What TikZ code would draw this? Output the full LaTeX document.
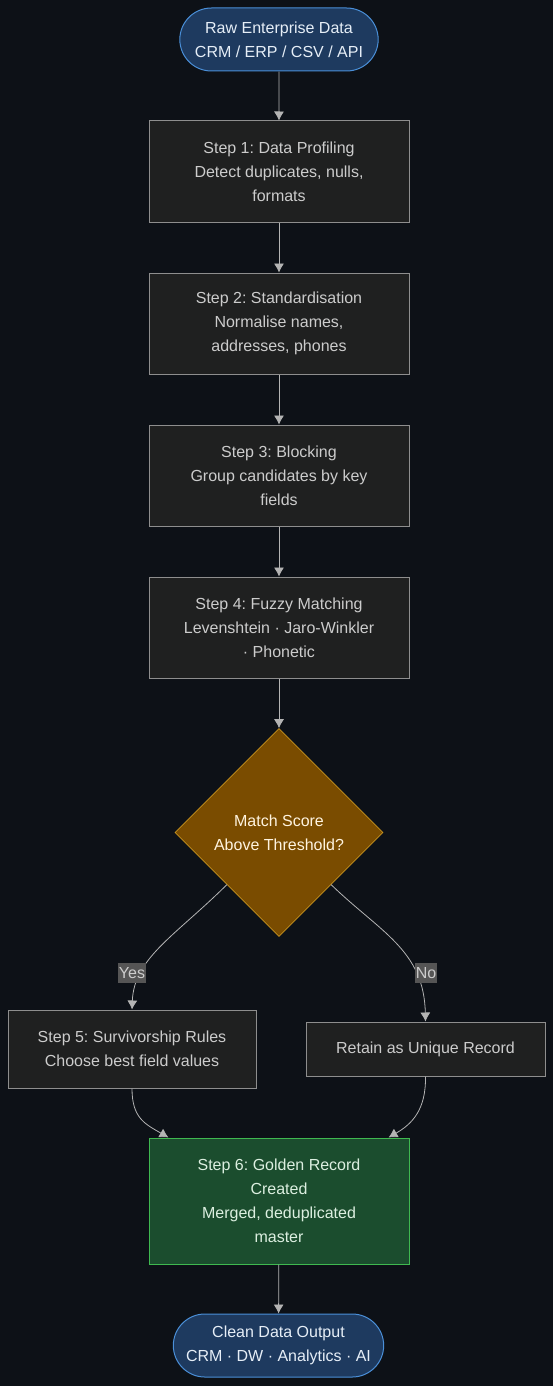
\documentclass[tikz,border=0pt]{standalone}
\usepackage{fontspec}
\setmainfont{Liberation Sans}
\usepackage{tikz}
\usetikzlibrary{arrows.meta,shapes.geometric,shapes.misc}
\frenchspacing
\definecolor{bgdark}{HTML}{0D1117}
\definecolor{boxfill}{HTML}{1F2020}
\definecolor{boxline}{HTML}{8E8E8E}
\definecolor{boxtext}{HTML}{CCCCCC}
\definecolor{termfill}{HTML}{1E3A5F}
\definecolor{termline}{HTML}{4A8FD8}
\definecolor{termtext}{HTML}{E6EEF7}
\definecolor{decfill}{HTML}{7A4C00}
\definecolor{decline}{HTML}{C8941F}
\definecolor{dectext}{HTML}{FFF4E0}
\definecolor{goldfill}{HTML}{1B4D2E}
\definecolor{goldline}{HTML}{3FB950}
\definecolor{goldtext}{HTML}{DCEFE0}
\definecolor{lblfill}{HTML}{555555}
\definecolor{flowline}{HTML}{B4B4B4}
\tikzset{
	stepbox/.style={
		% The shape:
		rectangle,minimum width=260pt,minimum height=101pt,
		% The border:
		line width=1pt,draw=boxline,
		% The filling:
		fill=boxfill,
		% The text:
		text=boxtext,align=center,
	}}
\tikzset{
	terminal/.style={
		% The shape:
		rounded rectangle,minimum height=63pt,
		% The border:
		line width=1pt,draw=termline,
		% The filling:
		fill=termfill,
		% The text:
		text=termtext,align=center,
	}}
\tikzset{
	decision/.style={
		% The shape:
		diamond,aspect=1,minimum width=208pt,minimum height=208pt,inner sep=0pt,
		% The border:
		line width=0.6pt,draw=decline,
		% The filling:
		fill=decfill,
		% The text:
		text=dectext,align=center,
	}}
\tikzset{
	golden/.style={
		stepbox,
		draw=goldline,fill=goldfill,text=goldtext,
	}}
\tikzset{
	answer/.style={
		fill=lblfill,text=boxtext,inner xsep=1pt,inner ysep=4pt,
	}}
\tikzset{
	flow/.style={
		->,line width=0.8pt,draw=flowline,
	}}

\begin{document}
\begin{tikzpicture}[x=1pt,y=-1pt,font=\fontsize{16pt}{24pt}\selectfont,
		>={Latex[length=9pt,width=10pt]}]
				\useasboundingbox[fill=bgdark] (0,0) rectangle (553,1386);
				% main column
				\node[terminal,minimum width=205pt] (start) at (279,39.5) {Raw Enterprise Data\\CRM / ERP / CSV / API};
				\node[stepbox] (s1) at (279,171.5) {Step 1: Data Profiling\\Detect duplicates, nulls,\\formats};
				\node[stepbox] (s2) at (279,323.5) {Step 2: Standardisation\\Normalise names,\\addresses, phones};
				\node[stepbox] (s3) at (279,475.5) {Step 3: Blocking\\Group candidates by key\\fields};
				\node[stepbox] (s4) at (279,627.5) {Step 4: Fuzzy Matching\\Levenshtein · Jaro-Winkler\\· Phonetic};
				\node[decision] (dec) at (279,832.5) {Match Score\\Above Threshold?};
				% the two outcomes
				\node[stepbox,minimum width=248pt,minimum height=78pt] (s5) at (132,1049) {Step 5: Survivorship Rules\\Choose best field values};
				\node[stepbox,minimum width=239pt,minimum height=54pt] (uniq) at (425.5,1049) {Retain as Unique Record};
				\node[golden,minimum height=126pt] (s6) at (279,1201) {Step 6: Golden Record\\Created\\Merged, deduplicated\\master};
				\node[terminal,minimum width=217pt] (out) at (278.5,1345.5) {Clean Data Output\\CRM · DW · Analytics · AI};
				\draw[flow] (start) -- (s1);
				\draw[flow] (s1) -- (s2);
				\draw[flow] (s2) -- (s3);
				\draw[flow] (s3) -- (s4);
				\draw[flow] (s4) -- (dec);
				\draw[flow] (dec.south west) .. controls (175,936) and (134,958) .. (s5.north);
				\draw[flow] (dec.south east) .. controls (380,932) and (424,950) .. (uniq.north);
				\draw[flow] (s5.south) .. controls (132,1118) and (145,1124) .. ([xshift=20pt]s6.north west);
				\draw[flow] (uniq.south) .. controls (426,1110) and (412,1124) .. ([xshift=-21pt]s6.north east);
				\draw[flow] (s6) -- (out);
				% answer labels
				\node[answer] (yes) at (132,973) {Yes};
				\node[answer] (no) at (426,973) {No};
				\end{tikzpicture}
\end{document}
